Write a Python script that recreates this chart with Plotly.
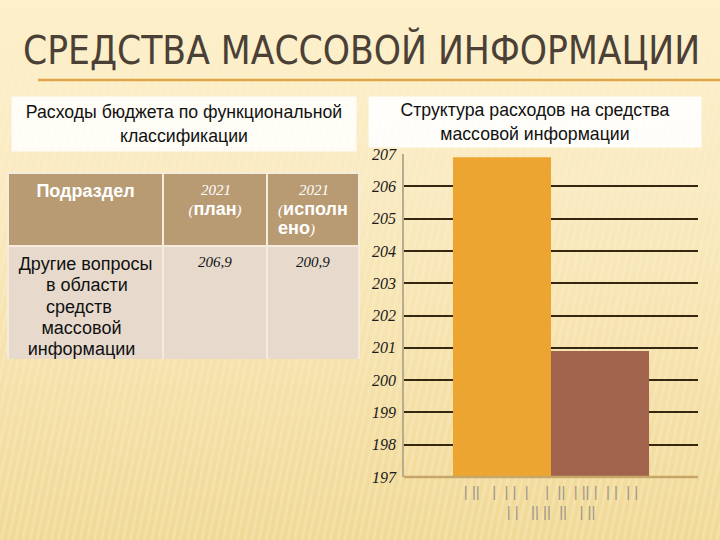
import base64
import plotly.graph_objects as go

# ---- data ----
title_text = "СРЕДСТВА МАССОВОЙ ИНФОРМАЦИИ"
left_subtitle = "Расходы бюджета по функциональной<br>классификации"
right_subtitle = "Структура расходов на средства<br>массовой информации"

table_col_names = ["Подраздел", "2021 (план)", "2021 (исполнено)"]
row_label_lines = ["Другие вопросы", "в области", "средств", "массовой", "информации"]
plan_value = "206,9"
fact_value = "200,9"

category = ["|\u00a0||\u00a0\u00a0\u00a0|\u00a0\u00a0|\u00a0|\u00a0\u00a0|\u00a0\u00a0\u00a0\u00a0|\u00a0\u00a0||\u00a0\u00a0|\u00a0||\u00a0|\u00a0\u00a0|\u00a0|\u00a0\u00a0|\u00a0|"
            "<br>|\u00a0|\u00a0\u00a0\u00a0||\u00a0||\u00a0\u00a0||\u00a0\u00a0\u00a0|\u00a0||"]
series_names = ["2021 (план)", "2021 (исполнено)"]
series_values = [206.9, 200.9]
series_colors = ["#eda531", "#a1634c"]
y_ticks = [197, 198, 199, 200, 201, 202, 203, 204, 205, 206, 207]

W, H = 720, 540
def fx(px): return px / W
def fy(py): return 1 - py / H

# ---- background (gradient + faint diagonal stripes) ----
svg = f"""<svg xmlns='http://www.w3.org/2000/svg' width='{W}' height='{H}'>
<defs>
<linearGradient id='g' x1='0' y1='0' x2='0' y2='1'>
<stop offset='0' stop-color='#fdf0ca'/>
<stop offset='0.35' stop-color='#faeac0'/>
<stop offset='1' stop-color='#f1d995'/>
</linearGradient>
<pattern id='p' width='7' height='7' patternUnits='userSpaceOnUse' patternTransform='rotate(12)'>
<rect width='3' height='7' fill='#ffffff' fill-opacity='0.18'/>
</pattern>
<linearGradient id='m' x1='0' y1='0' x2='0' y2='1'>
<stop offset='0' stop-color='#fff' stop-opacity='0'/>
<stop offset='0.15' stop-color='#fff' stop-opacity='0.6'/>
<stop offset='1' stop-color='#fff' stop-opacity='1'/>
</linearGradient>
<mask id='mk'><rect width='{W}' height='{H}' fill='url(#m)'/></mask>
</defs>
<rect width='{W}' height='{H}' fill='url(#g)'/>
<rect width='{W}' height='{H}' fill='url(#p)' mask='url(#mk)'/>
</svg>"""
bg_uri = "data:image/svg+xml;base64," + base64.b64encode(svg.encode()).decode()

fig = go.Figure()

# ---- table ----
serif = "Liberation Serif"
sans = "Liberation Sans"
nb = "\u00a0"
def sp(t):
    return "<i><span style='font-family:Liberation Serif;font-size:15px'>" + t + "</span></i>"
def bs(t):
    return "<b><span style='font-size:18px'>" + t + "</span></b>"
hdr = [
    bs(table_col_names[0]) + "<br>",
    nb * 3 + sp("2021") + "<br>" + sp("(") + bs("план") + sp(")"),
    nb * 5 + sp("2021") + "<br>" + sp("(") + bs("исполн") + "<br>" + bs("ено") + sp(")"),
]
# pad shorter lines so that the block reads centred line by line
pads = [0, 6, 6, 5, 2]
body_label = "<br>".join(nb * p + "<span style='font-size:18px'>" + t + "</span>"
                         for p, t in zip(pads, row_label_lines))
body = [[body_label], ["<i>" + plan_value + "</i><br>"], ["<i>" + fact_value + "</i><br>"]]
fig.add_trace(go.Table(
    domain=dict(x=[fx(8), fx(359)], y=[fy(359), fy(173)]),
    columnwidth=[155, 104, 92],
    header=dict(values=hdr, fill_color="#b99b73", line=dict(color="#f6ecdc", width=2),
                font=dict(family=sans, size=15, color="white"), align="center", height=72),
    cells=dict(values=body, fill_color="#e7dacd", line=dict(color="#f6ecdc", width=2),
               font=dict(family=[sans, serif, serif], size=[16.4, 15, 15], color="#111111"),
               align="center", height=114),
))

# ---- bars ----
for name, val, col in zip(series_names, series_values, series_colors):
    fig.add_trace(go.Bar(x=category, y=[val - 197], base=197, name=name,
                         marker=dict(color=col, line=dict(width=0)),
                         showlegend=False, hoverinfo="skip"))

fig.update_layout(
    width=W, height=H,
    margin=dict(l=0, r=0, t=0, b=0),
    paper_bgcolor="#f9e8bd",
    plot_bgcolor="rgba(0,0,0,0)",
    barmode="group",
    bargap=0.333,
    bargroupgap=0,
    images=[dict(source=bg_uri, xref="paper", yref="paper", x=0, y=1, sizex=1, sizey=1,
                 xanchor="left", yanchor="top", sizing="stretch", layer="below")],
    xaxis=dict(domain=[fx(404), fx(698)], showgrid=False, zeroline=False, automargin=False,
               showline=False, ticks="", ticklabelstandoff=4,
               tickfont=dict(family=sans, size=15, color="#9c978e")),
    yaxis=dict(domain=[fy(477), fy(154)], range=[197, 207], tickvals=y_ticks,
               automargin=False,
               showgrid=True, gridcolor="#35260f", gridwidth=1.5,
               zeroline=False, showline=True, linecolor="#b8ab8e", linewidth=1.5,
               ticks="", ticklabelstandoff=3,
               tickfont=dict(family=serif, size=16, color="#1a1a1a", style="italic")),
    shapes=[
        dict(type="line", xref="paper", yref="paper", x0=fx(38), x1=1, y0=fy(80), y1=fy(80),
             line=dict(color="#e0a446", width=2.5)),
        dict(type="line", xref="paper", yref="paper", x0=fx(404), x1=fx(698), y0=fy(477), y1=fy(477),
             line=dict(color="#c7a66a", width=2.5)),
    ],
    annotations=[
        dict(text=title_text, xref="paper", yref="paper", x=fx(361), y=fy(50),
             xanchor="center", yanchor="middle", showarrow=False,
             font=dict(family="Liberation Sans Narrow, DejaVu Sans Condensed, sans-serif",
                       size=38.5, color="#4b4036")),
        dict(text=left_subtitle, xref="paper", yref="paper", x=fx(184), y=fy(124),
             xanchor="center", yanchor="middle", showarrow=False,
             width=342, height=52, bgcolor="rgba(255,255,255,0.85)",
             font=dict(family=sans, size=17.7, color="#111111")),
        dict(text=right_subtitle, xref="paper", yref="paper", x=fx(535), y=fy(122),
             xanchor="center", yanchor="middle", showarrow=False,
             width=330, height=48, bgcolor="rgba(255,255,255,0.9)",
             font=dict(family=sans, size=17.7, color="#111111")),
    ],
)

fig.write_html("out.html")
